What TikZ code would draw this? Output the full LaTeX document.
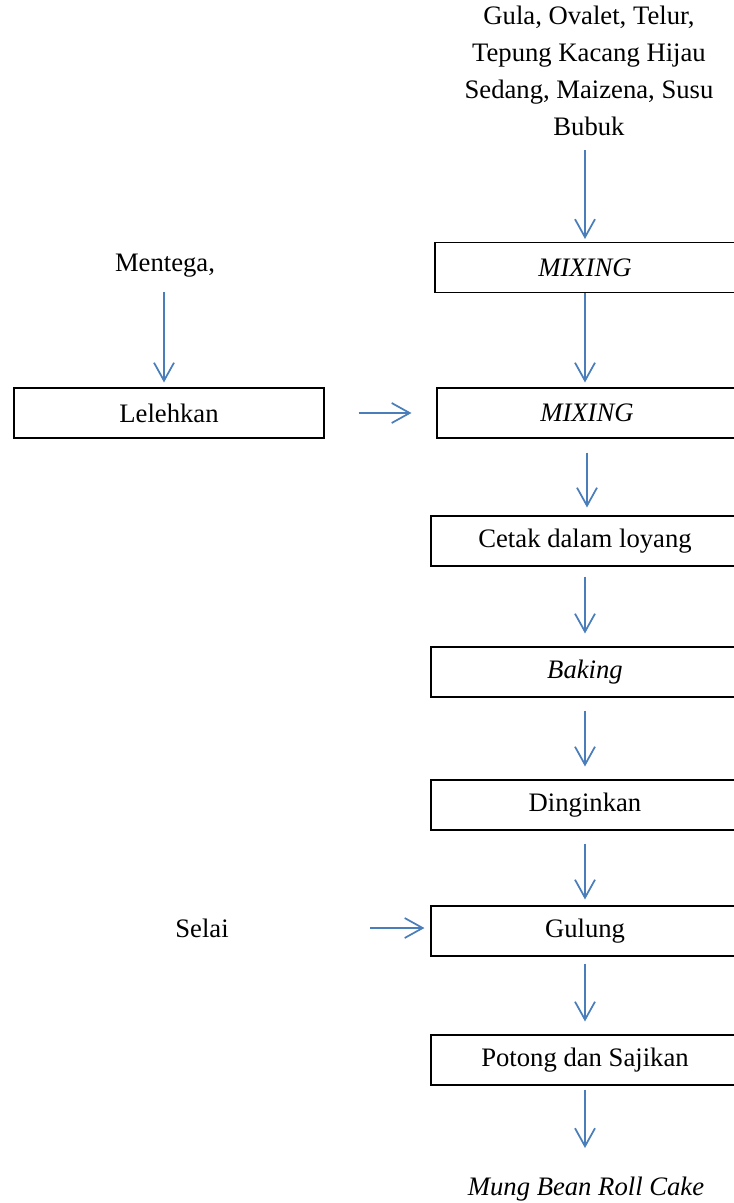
\documentclass[tikz,border=0pt]{standalone}
\usepackage{fontspec}
\setmainfont{Liberation Serif}
\usetikzlibrary{arrows.meta}
\definecolor{arrowblue}{RGB}{74,126,187}
\tikzset{
  procbox/.style={draw=black, line width=0.8pt, inner sep=0pt, minimum height=37.5pt},
  label/.style={inner sep=0pt, align=center},
  flow/.style={draw=arrowblue, line width=1.3pt, -{Straight Barb[length=13.5pt, width=15pt, line width=1.3pt]}},
}
\begin{document}
\begin{tikzpicture}[x=0.75pt, y=-0.75pt, font=\fontsize{20pt}{27.75pt}\selectfont]
\useasboundingbox (0,0) rectangle (734,1203);
\clip (0,0) rectangle (734,1203);
% input texts
\node[label] (ing) at (589,71) {Gula, Ovalet, Telur,\\Tepung Kacang Hijau\\Sedang, Maizena, Susu\\Bubuk};
\node[label] (mentega) at (165,266) {Mentega,};
\node[label] (selai) at (202,928) {Selai};
\node[label] (cake) at (586,1189) {\itshape Mung Bean Roll Cake};
% process boxes
\node[procbox, minimum width=225pt] (mix1) at (585,267.5) {\itshape MIXING};
\node[procbox, minimum width=225pt] (mix2) at (587,413) {\itshape MIXING};
\node[procbox, minimum width=232.5pt] (leleh) at (169,413) {Lelehkan};
\node[procbox, minimum width=231pt] (cetak) at (585,541) {Cetak dalam loyang};
\node[procbox, minimum width=231pt] (baking) at (585,672) {\itshape Baking};
\node[procbox, minimum width=231pt] (dingin) at (585,805) {Dinginkan};
\node[procbox, minimum width=231pt] (gulung) at (585,931) {Gulung};
\node[procbox, minimum width=231pt] (potong) at (585,1060) {Potong dan Sajikan};
% free ends of connectors
\coordinate (ingEnd) at (585,150);
\coordinate (mentEnd) at (164,292);
\coordinate (selaiEnd) at (370,928);
\coordinate (cakeEnd) at (585,1148);
% connectors
\draw[flow, shorten >=2.25pt] (ingEnd) -- (ingEnd |- mix1.north);
\draw[flow, shorten >=3.75pt] (mix1.south -| ingEnd) -- (mix2.north -| ingEnd);
\draw[flow, shorten >=3.75pt] (mentEnd) -- (mentEnd |- leleh.north);
\draw[flow, shorten <=25.5pt, shorten >=18.75pt] (leleh.east) -- (mix2.west);
\draw[flow, shorten <=10.5pt, shorten >=6pt] (mix2.south) -- (mix2.south |- cetak.north);
\draw[flow, shorten <=7.5pt, shorten >=9.75pt] (cetak.south) -- (baking.north);
\draw[flow, shorten <=9.75pt, shorten >=9.75pt] (baking.south) -- (dingin.north);
\draw[flow, shorten <=9.75pt, shorten >=4.5pt] (dingin.south) -- (gulung.north);
\draw[flow, shorten >=4.5pt] (selaiEnd) -- (selaiEnd -| gulung.west);
\draw[flow, shorten <=5.25pt, shorten >=9.75pt] (gulung.south) -- (potong.north);
\draw[flow, shorten <=3pt] (potong.south) -- (cakeEnd);
\end{tikzpicture}
\end{document}
